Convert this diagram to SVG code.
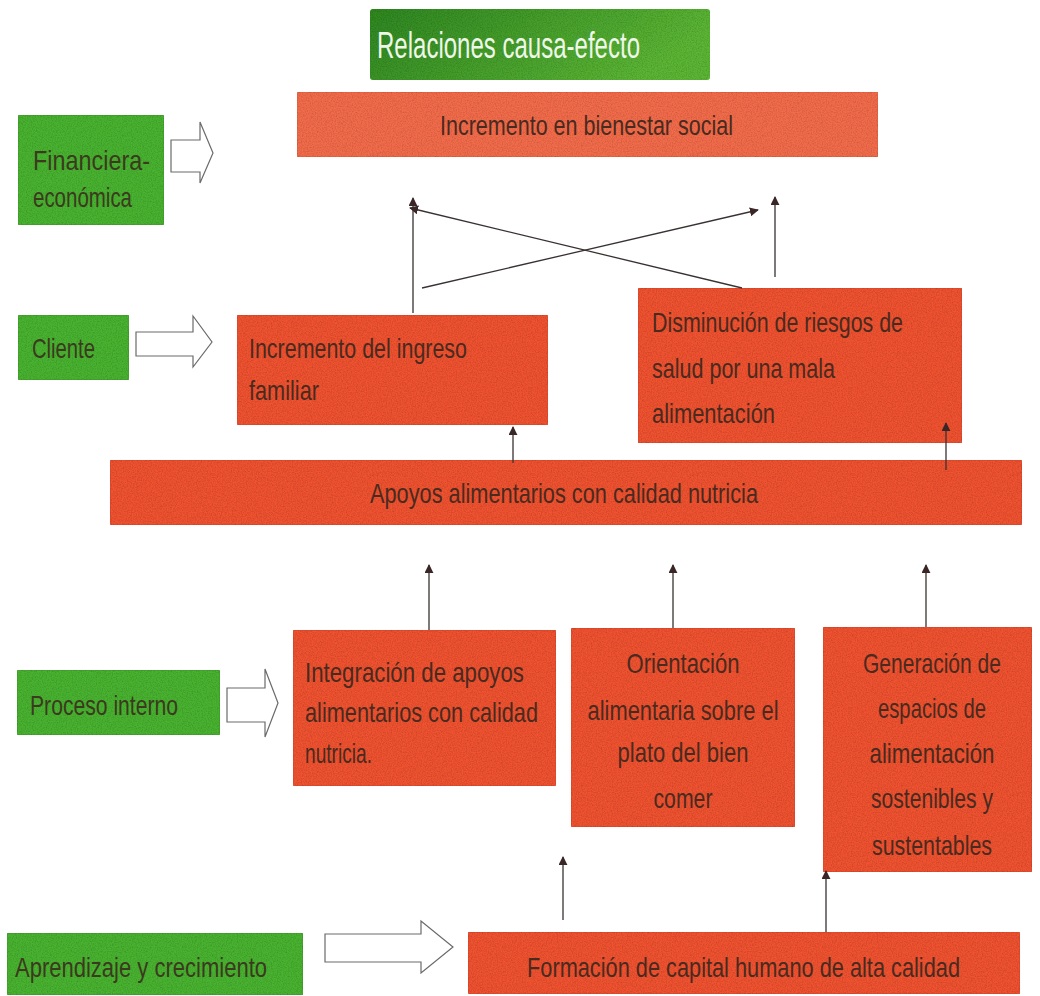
<svg xmlns="http://www.w3.org/2000/svg" width="1040" height="996" viewBox="0 0 1040 996">
  <style>
    .red { fill: #ef5230; stroke: #d9462a; stroke-width: 1; }
    .coral { fill: #f26c4b; stroke: #e05a3c; stroke-width: 1; }
    .green { fill: #4ab233; stroke: #3e9a2b; stroke-width: 1; }
    .t { font-family: "Liberation Sans Narrow", "Liberation Sans", Arial, sans-serif; font-size: 28px; fill: #4a2a1e; }
    .tg { font-family: "Liberation Sans Narrow", "Liberation Sans", Arial, sans-serif; font-size: 28px; fill: #3b3a1e; }
    .title { font-family: "Liberation Sans Narrow", "Liberation Sans", Arial, sans-serif; font-size: 37px; fill: #eef6e8; }
    .c { text-anchor: middle; }
    .conn line { stroke: #3a3232; stroke-width: 1.3; fill: none; marker-end: url(#ah); }
    .block { fill: #ffffff; stroke: #6a6a6a; stroke-width: 1.2; }
  </style>
  <defs>
    <marker id="ah" viewBox="0 0 10 10" refX="9" refY="5" markerWidth="9" markerHeight="9" markerUnits="userSpaceOnUse" orient="auto">
      <path d="M0,0 L10,5 L0,10 z" fill="#3a2626"/>
    </marker>
    <linearGradient id="tg" x1="0" y1="0" x2="1" y2="0.3">
      <stop offset="0" stop-color="#2f8623"/>
      <stop offset="1" stop-color="#5cb536"/>
    </linearGradient>
    <filter id="grain" x="0" y="0" width="1" height="1">
      <feTurbulence type="fractalNoise" baseFrequency="0.8" numOctaves="2" seed="3" result="n"/>
      <feColorMatrix in="n" type="matrix" values="0 0 0 0 0  0 0 0 0 0  0 0 0 0 0  0.6 0 0 0 -0.22" result="a"/>
      <feComposite in="a" in2="SourceGraphic" operator="in" result="g"/>
      <feMerge><feMergeNode in="SourceGraphic"/><feMergeNode in="g"/></feMerge>
    </filter>
  </defs>

  <rect width="1040" height="996" fill="#ffffff"/>

  <g id="title">
    <rect x="370" y="9" width="340" height="71" rx="3" fill="url(#tg)" filter="url(#grain)"/>
    <text class="title" x="377" y="58" textLength="263" lengthAdjust="spacingAndGlyphs">Relaciones causa-efecto</text>
  </g>

  <g id="bienestar">
    <rect class="coral" x="297" y="92" width="581" height="65" rx="2" filter="url(#grain)"/>
    <text class="t" x="440" y="135" textLength="293" lengthAdjust="spacingAndGlyphs">Incremento en bienestar social</text>
  </g>

  <g id="financiera">
    <rect class="green" x="18" y="115" width="146" height="110" rx="2" filter="url(#grain)"/>
    <text class="tg" x="33" y="170" textLength="117" lengthAdjust="spacingAndGlyphs">Financiera-</text>
    <text class="tg" x="33" y="207" textLength="99" lengthAdjust="spacingAndGlyphs">económica</text>
  </g>

  <g id="cliente">
    <rect class="green" x="18" y="315" width="111" height="65" rx="2" filter="url(#grain)"/>
    <text class="tg" x="32" y="358" textLength="63" lengthAdjust="spacingAndGlyphs">Cliente</text>
  </g>

  <g id="ingreso">
    <rect class="red" x="237" y="315" width="311" height="110" rx="2" filter="url(#grain)"/>
    <text class="t" x="249" y="358" textLength="218" lengthAdjust="spacingAndGlyphs">Incremento del ingreso</text>
    <text class="t" x="249" y="400" textLength="70" lengthAdjust="spacingAndGlyphs">familiar</text>
  </g>

  <g id="riesgos">
    <rect class="red" x="638" y="288" width="324" height="155" rx="2" filter="url(#grain)"/>
    <text class="t" x="652" y="332" textLength="251" lengthAdjust="spacingAndGlyphs">Disminución de riesgos de</text>
    <text class="t" x="652" y="378" textLength="183" lengthAdjust="spacingAndGlyphs">salud por una mala</text>
    <text class="t" x="652" y="423" textLength="123" lengthAdjust="spacingAndGlyphs">alimentación</text>
  </g>

  <g id="apoyos">
    <rect class="red" x="110" y="460" width="912" height="65" rx="2" filter="url(#grain)"/>
    <text class="t" x="370" y="503" textLength="388" lengthAdjust="spacingAndGlyphs">Apoyos alimentarios con calidad nutricia</text>
  </g>

  <g id="proceso">
    <rect class="green" x="17" y="670" width="203" height="65" rx="2" filter="url(#grain)"/>
    <text class="tg" x="30" y="715" textLength="148" lengthAdjust="spacingAndGlyphs">Proceso interno</text>
  </g>

  <g id="integracion">
    <rect class="red" x="293" y="630" width="263" height="156" rx="2" filter="url(#grain)"/>
    <text class="t" x="305" y="682" textLength="219" lengthAdjust="spacingAndGlyphs">Integración de apoyos</text>
    <text class="t" x="305" y="722" textLength="233" lengthAdjust="spacingAndGlyphs">alimentarios con calidad</text>
    <text class="t" x="305" y="763" textLength="67" lengthAdjust="spacingAndGlyphs">nutricia.</text>
  </g>

  <g id="orientacion">
    <rect class="red" x="571" y="628" width="224" height="199" rx="2" filter="url(#grain)"/>
    <text class="t c" x="683" y="673" textLength="113" lengthAdjust="spacingAndGlyphs">Orientación</text>
    <text class="t c" x="683" y="720" textLength="191" lengthAdjust="spacingAndGlyphs">alimentaria sobre el</text>
    <text class="t c" x="683" y="762" textLength="131" lengthAdjust="spacingAndGlyphs">plato del bien</text>
    <text class="t c" x="683" y="808" textLength="59" lengthAdjust="spacingAndGlyphs">comer</text>
  </g>

  <g id="generacion">
    <rect class="red" x="823" y="627" width="209" height="245" rx="2" filter="url(#grain)"/>
    <text class="t c" x="932" y="673" textLength="138" lengthAdjust="spacingAndGlyphs">Generación de</text>
    <text class="t c" x="932" y="718" textLength="108" lengthAdjust="spacingAndGlyphs">espacios de</text>
    <text class="t c" x="932" y="763" textLength="125" lengthAdjust="spacingAndGlyphs">alimentación</text>
    <text class="t c" x="932" y="808" textLength="122" lengthAdjust="spacingAndGlyphs">sostenibles y</text>
    <text class="t c" x="932" y="855" textLength="120" lengthAdjust="spacingAndGlyphs">sustentables</text>
  </g>

  <g id="aprendizaje">
    <rect class="green" x="7" y="933" width="296" height="62" rx="2" filter="url(#grain)"/>
    <text class="tg" x="15" y="977" textLength="252" lengthAdjust="spacingAndGlyphs">Aprendizaje y crecimiento</text>
  </g>

  <g id="formacion">
    <rect class="red" x="468" y="932" width="552" height="62" rx="2" filter="url(#grain)"/>
    <text class="t" x="527" y="977" textLength="433" lengthAdjust="spacingAndGlyphs">Formación de capital humano de alta calidad</text>
  </g>

  <g id="block-arrows">
    <path class="block" d="M171,140 H200 V122 L213,153 L200,183 V172 H171 Z"/>
    <path class="block" d="M136,332 H193 V316 L212,342 L193,367 V356 H136 Z"/>
    <path class="block" d="M227,688 H265 V669 L278,703 L265,737 V722 H227 Z"/>
    <path class="block" d="M325,934 H421 V921 L453,947 L421,973 V962 H325 Z"/>
  </g>

  <g id="connectors" class="conn">
    <line x1="413" y1="313" x2="413" y2="198"/>
    <line x1="422" y1="288" x2="758" y2="210"/>
    <line x1="742" y1="288" x2="410" y2="208"/>
    <line x1="775" y1="277" x2="775" y2="197"/>
    <line x1="513" y1="463" x2="513" y2="427"/>
    <line x1="946" y1="470" x2="946" y2="423"/>
    <line x1="429" y1="630" x2="429" y2="565"/>
    <line x1="673" y1="628" x2="673" y2="565"/>
    <line x1="926" y1="627" x2="926" y2="565"/>
    <line x1="563" y1="920" x2="563" y2="857"/>
    <line x1="826" y1="932" x2="826" y2="871"/>
  </g>
</svg>
